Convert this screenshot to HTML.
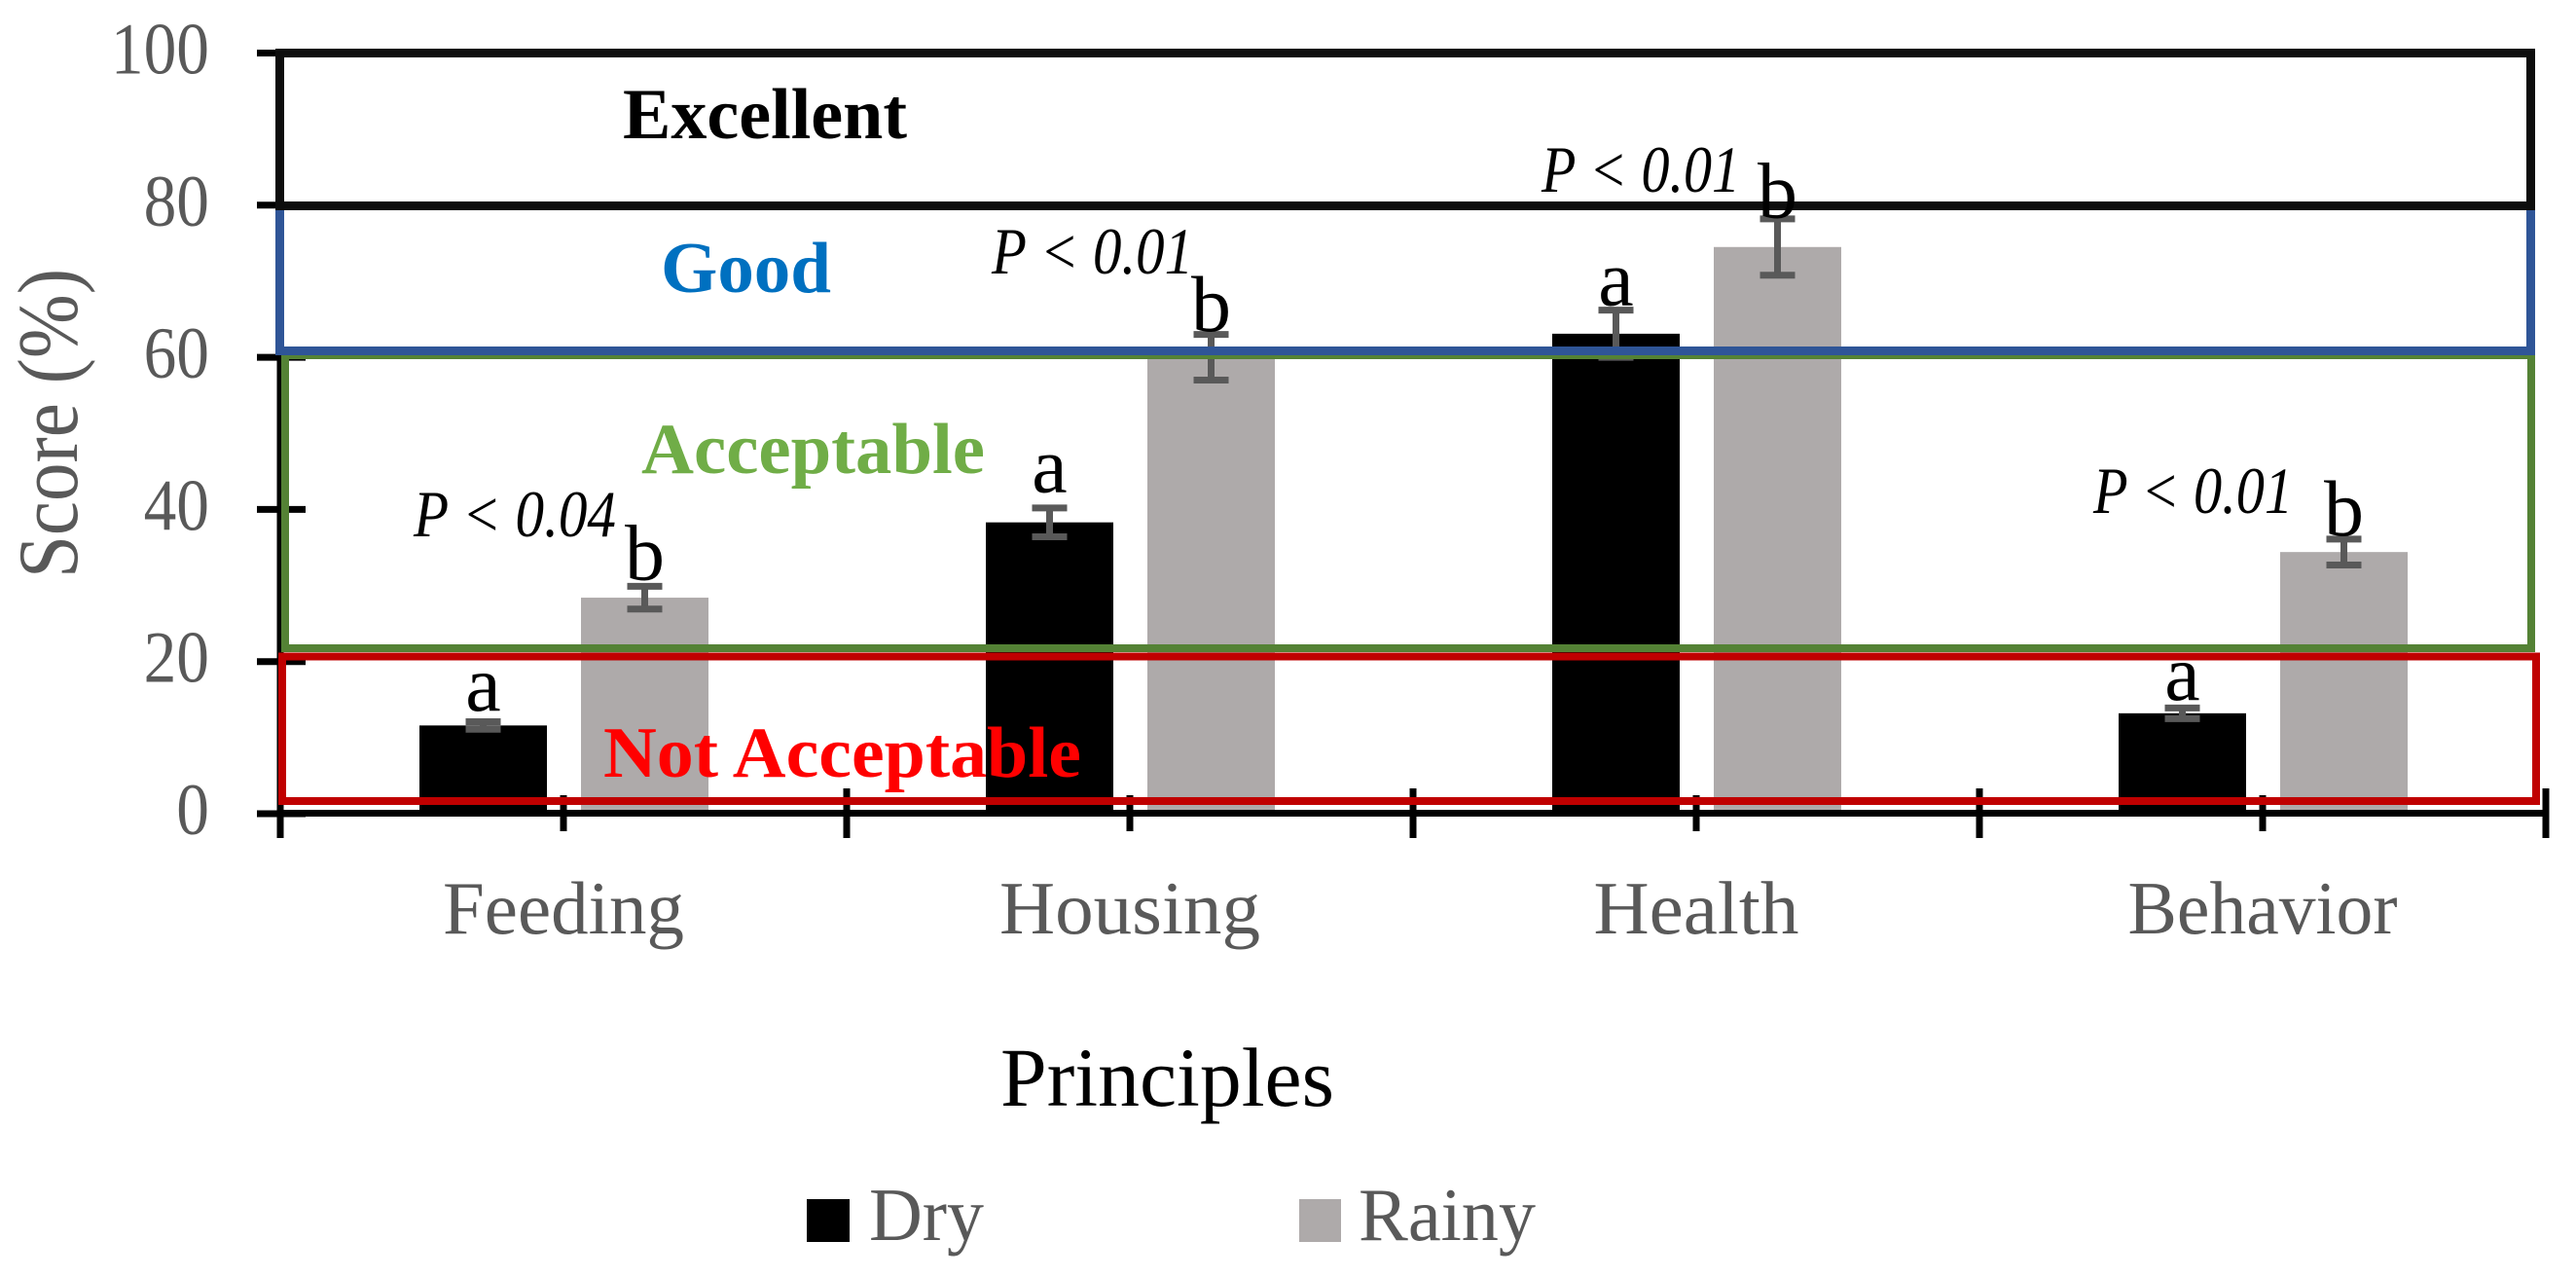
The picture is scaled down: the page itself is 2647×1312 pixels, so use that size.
<!DOCTYPE html>
<html lang="en">
<head>
<meta charset="utf-8">
<title>Score by principle</title>
<style>
  html, body { margin: 0; padding: 0; background: #fff; }
  svg { display: block; }
  text { font-family: "Liberation Serif", serif; }
</style>
</head>
<body>
<svg id="chart" xmlns="http://www.w3.org/2000/svg" width="2647" height="1312" viewBox="0 0 2647 1312">
  <rect x="0" y="0" width="2647" height="1312" fill="#ffffff"/>
  <g id="bars"></g>
  <g id="errors"></g>
  <g id="axes"></g>

  <rect x="293" y="365" width="2308" height="301" fill="none" stroke="#548235" stroke-width="8"/>
  <rect x="287.5" y="211.5" width="2313" height="149" fill="none" stroke="#2f5597" stroke-width="9"/>
  <rect x="287.5" y="54.5" width="2313" height="157" fill="none" stroke="#0d0d0d" stroke-width="9"/>
  <rect x="290" y="674.5" width="2316" height="148.5" fill="none" stroke="#c00000" stroke-width="8"/>

  <text x="640" y="142" font-size="74" font-weight="700" fill="#000000" textLength="292" lengthAdjust="spacingAndGlyphs">Excellent</text>
  <text x="679" y="300" font-size="74" font-weight="700" fill="#0070c0" textLength="175" lengthAdjust="spacingAndGlyphs">Good</text>
  <text x="659" y="486" font-size="74" font-weight="700" fill="#70ad47" textLength="353" lengthAdjust="spacingAndGlyphs">Acceptable</text>
  <text x="620" y="798" font-size="74" font-weight="700" fill="#ff0000" textLength="491" lengthAdjust="spacingAndGlyphs">Not Acceptable</text>

  <text x="425" y="551" font-size="68" font-style="italic" fill="#000000" textLength="208" lengthAdjust="spacingAndGlyphs">P &lt; 0.04</text>
  <text x="1019" y="281" font-size="68" font-style="italic" fill="#000000" textLength="207" lengthAdjust="spacingAndGlyphs">P &lt; 0.01</text>
  <text x="1584" y="197" font-size="68" font-style="italic" fill="#000000" textLength="204" lengthAdjust="spacingAndGlyphs">P &lt; 0.01</text>
  <text x="2151" y="527" font-size="68" font-style="italic" fill="#000000" textLength="205" lengthAdjust="spacingAndGlyphs">P &lt; 0.01</text>

  <g id="letters"></g>
  <g id="tick-labels"></g>

  <text transform="translate(79,594) rotate(-90)" font-size="88" fill="#595959" textLength="318" lengthAdjust="spacingAndGlyphs">Score (%)</text>
  <text x="1028" y="1136" font-size="86" fill="#000000" textLength="343" lengthAdjust="spacingAndGlyphs">Principles</text>

  <g>
    <rect x="829" y="1232" width="44" height="44" fill="#000000"/>
    <text x="893" y="1274" font-size="77" fill="#595959" textLength="118" lengthAdjust="spacingAndGlyphs">Dry</text>
    <rect x="1335" y="1232" width="43" height="44" fill="#aeaaaa"/>
    <text x="1396" y="1274" font-size="77" fill="#595959" textLength="182" lengthAdjust="spacingAndGlyphs">Rainy</text>
  </g>
</svg>

<script>
const categories = ["Feeding", "Housing", "Health", "Behavior"];
const dryValues = [11.6, 38.3, 63.1, 13.2];
const rainyValues = [28.4, 60.0, 74.5, 34.4];
const dryErrors = [0.5, 1.9, 3.1, 0.7];
const rainyErrors = [1.5, 3.0, 3.7, 1.7];
const yTickLabels = [0, 20, 40, 60, 80, 100];
const dryLetters = ["a", "a", "a", "a"];
const rainyLetters = ["b", "b", "b", "b"];

const SVG_NS = "http://www.w3.org/2000/svg";

function yScale(v) {
  return 836 - 7.815 * v;
}
function bandLeft(i) {
  return 288 + 582 * i;
}
function bandCenter(i) {
  return bandLeft(i) + 291;
}
function make(parentId, tag, attrs) {
  const node = document.createElementNS(SVG_NS, tag);
  Object.keys(attrs).forEach(function (k) { node.setAttribute(k, attrs[k]); });
  document.getElementById(parentId).appendChild(node);
  return node;
}

function drawBar(value, cx, fill) {
  const top = yScale(value);
  return make("bars", "rect", { x: cx - 65.5, y: top, width: 131, height: yScale(0) - top, fill: fill });
}

function drawError(value, err, cx) {
  const hi = yScale(value + err);
  const lo = yScale(value - err);
  const stem = make("errors", "line", { x1: cx, x2: cx, y1: hi, y2: lo, stroke: "#595959", "stroke-width": 7 });
  
  
  const capTop = make("errors", "line", { x1: cx - 18, x2: cx + 18, y1: hi, y2: hi, stroke: "#595959", "stroke-width": 7 });
  
  
  const capBottom = make("errors", "line", { x1: cx - 18, x2: cx + 18, y1: lo, y2: lo, stroke: "#595959", "stroke-width": 7 });
  
  
}

function drawLetter(text, cx, errTopY, gap) {
  const node = make("letters", "text", { x: cx, y: errTopY - gap, "font-size": 82, "text-anchor": "middle", fill: "#000000" });
  node.textContent = text;
  return node;
}

function drawChart() {
  const dryGap = [8, 13, 1.5, 5];
  const rainyGap = [3.5, 0, -2, 0.5];
  const labelWidths = { Feeding: 248, Housing: 268, Health: 211, Behavior: 277 };

  categories.forEach(function (name, i) {
    const cxDry = bandCenter(i) - 82.5;
    const cxRainy = bandCenter(i) + 83.5;

    const dryBar = drawBar(dryValues[i], cxDry, "#000000");
    
    

    const rainyBar = drawBar(rainyValues[i], cxRainy, "#aeaaaa");
    
    

    drawError(dryValues[i], dryErrors[i], cxDry);
    drawError(rainyValues[i], rainyErrors[i], cxRainy);

    const dryLetter = drawLetter(dryLetters[i], cxDry, yScale(dryValues[i] + dryErrors[i]) - 3.5, dryGap[i]);
    
    

    const rainyLetter = drawLetter(rainyLetters[i], cxRainy, yScale(rainyValues[i] + rainyErrors[i]) - 3.5, rainyGap[i]);
    
    

    const catLabel = make("tick-labels", "text", {
      x: bandCenter(i), y: 959, "font-size": 77, "text-anchor": "middle", fill: "#595959",
      textLength: labelWidths[name], lengthAdjust: "spacingAndGlyphs"
    });
    catLabel.textContent = name;
    
    

    const midTick = make("axes", "line", { x1: bandCenter(i), x2: bandCenter(i), y1: 817, y2: 854, stroke: "#000000", "stroke-width": 7 });
    
    
  });

  for (let i = 0; i <= categories.length; i++) {
    const major = make("axes", "line", { x1: bandLeft(i), x2: bandLeft(i), y1: 810, y2: 861, stroke: "#000000", "stroke-width": 7 });
    
    
  }

  const yAxis = make("axes", "line", { x1: bandLeft(0), x2: bandLeft(0), y1: yScale(100), y2: yScale(0), stroke: "#000000", "stroke-width": 7 });
  
  

  const xAxis = make("axes", "line", { x1: bandLeft(0), x2: bandLeft(categories.length), y1: yScale(0) - 0.5, y2: yScale(0) - 0.5, stroke: "#000000", "stroke-width": 7 });
  
  

  yTickLabels.forEach(function (v) {
    const tick = make("axes", "line", { x1: 264, x2: 314, y1: yScale(v), y2: yScale(v), stroke: "#000000", "stroke-width": 7 });
    
    

    const label = make("tick-labels", "text", {
      x: 215, y: yScale(v) + 21, "font-size": 75, "text-anchor": "end", fill: "#595959",
      textLength: String(v).length * 33.7, lengthAdjust: "spacingAndGlyphs"
    });
    label.textContent = String(v);
    
    
  });
}

drawChart();
</script>
</body>
</html>
